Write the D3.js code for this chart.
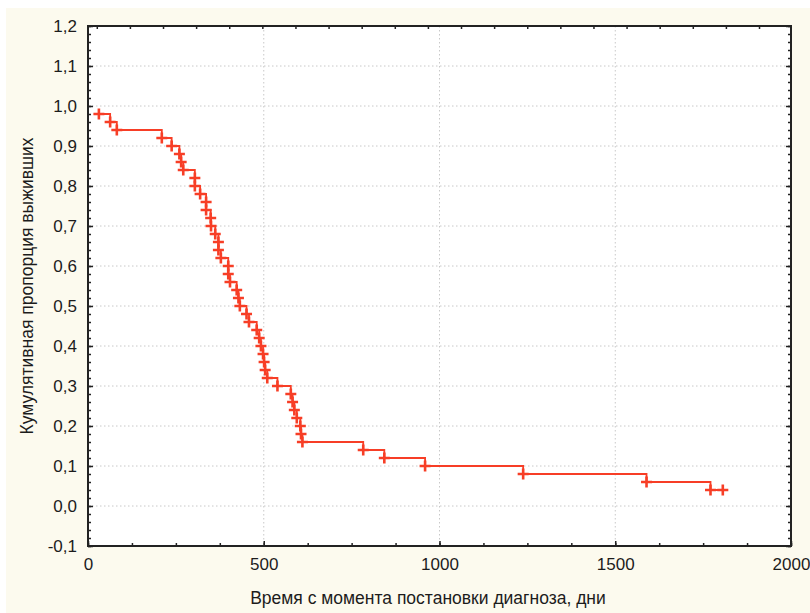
<!DOCTYPE html>
<html>
<head>
<meta charset="utf-8">
<script src="https://cdn.jsdelivr.net/npm/d3@7"></script>
<style>
  body { margin: 0; background: #fff; }
  text { font-family: "Liberation Sans", Arial, sans-serif; fill: #1c1c1c; }
</style>
</head>
<body>
<script>
// Kaplan-Meier style survival curve
var times = [31, 63, 82, 210, 238, 260, 265, 271, 304, 304, 319, 336, 336, 349, 350,
    362, 371, 371, 378, 399, 399, 404, 423, 428, 432, 451, 458, 480, 487, 492,
    498, 501, 504, 510, 539, 577, 582, 587, 594, 604, 606, 610,
    783, 843, 959, 1238, 1589, 1771, 1806];
var survival = [0.98, 0.96, 0.94, 0.92, 0.90, 0.88, 0.86, 0.84, 0.82, 0.80, 0.78, 0.76, 0.74, 0.72, 0.70,
    0.68, 0.66, 0.64, 0.62, 0.60, 0.58, 0.56, 0.54, 0.52, 0.50, 0.48, 0.46, 0.44, 0.42, 0.40,
    0.38, 0.36, 0.34, 0.32, 0.30, 0.28, 0.26, 0.24, 0.22, 0.20, 0.18, 0.16,
    0.14, 0.12, 0.10, 0.08, 0.06, 0.04, 0.04];

var xTicks = [0, 500, 1000, 1500, 2000];
var yTicks = [-0.1, 0, 0.1, 0.2, 0.3, 0.4, 0.5, 0.6, 0.7, 0.8, 0.9, 1.0, 1.1, 1.2];
var xTitle = "Время с момента постановки диагноза, дни";
var yTitle = "Кумулятивная пропорция выживших";

var width = 810, height = 613;
var margin = {top: 26, right: 19, bottom: 67, left: 88};
var w = width - margin.left - margin.right;
var h = height - margin.top - margin.bottom;

var svg = d3.select("body").append("svg")
    .attr("width", width)
    .attr("height", height);

// cream panel
svg.append("rect")
    .attr("x", 6).attr("y", 8)
    .attr("width", width - 6).attr("height", height - 8)
    .attr("fill", "#fcfaee");

var g = svg.append("g")
    .attr("transform", "translate(" + margin.left + "," + margin.top + ")");

g.append("rect")
    .attr("width", w).attr("height", h)
    .attr("fill", "#fff");

var x = d3.scaleLinear().domain([0, 2000]).range([0, w]);
var y = d3.scaleLinear().domain([-0.1, 1.2]).range([h, 0]);

var fmt = function (d) { return d3.format(".1f")(d).replace(".", ",").replace("−", "-"); };

// grid
g.append("g").selectAll("line")
    .data(yTicks.filter(function (d) { return d > -0.05 && d < 1.15; }))
    .enter().append("line")
    .attr("x1", 0).attr("x2", w)
    .attr("y1", function (d) { return y(d); })
    .attr("y2", function (d) { return y(d); })
    .attr("stroke", "#c8c8c8")
    .attr("stroke-dasharray", "1.5,2.5");
g.append("g").selectAll("line")
    .data(xTicks.filter(function (d) { return d > 0 && d < 2000; }))
    .enter().append("line")
    .attr("y1", 0).attr("y2", h)
    .attr("x1", function (d) { return x(d); })
    .attr("x2", function (d) { return x(d); })
    .attr("stroke", "#c8c8c8")
    .attr("stroke-dasharray", "1.5,2.5");

// minor ticks
var yMinor = d3.range(-0.1, 1.2001, 0.02);
var xMinor = d3.range(0, 2001, 125);
var xTopMinor = d3.range(25, 2000, 94.2);

g.append("g").attr("class", "minor")
    .call(d3.axisLeft(y).tickValues(yMinor).tickSize(-3).tickFormat(""));
g.append("g").attr("class", "minor")
    .attr("transform", "translate(" + w + ",0)")
    .call(d3.axisRight(y).tickValues(yMinor).tickSize(-3).tickFormat(""));
g.append("g").attr("class", "minor")
    .attr("transform", "translate(0," + h + ")")
    .call(d3.axisBottom(x).tickValues(xMinor).tickSize(-3).tickFormat(""));
g.append("g").attr("class", "minor")
    .call(d3.axisTop(x).tickValues(xTopMinor).tickSize(-3).tickFormat(""));

// major axes with labels
g.append("g").attr("class", "major")
    .call(d3.axisLeft(y).tickValues(yTicks).tickSizeInner(-5).tickSizeOuter(0)
        .tickPadding(11).tickFormat(fmt));
g.append("g").attr("class", "major")
    .attr("transform", "translate(" + w + ",0)")
    .call(d3.axisRight(y).tickValues(yTicks).tickSizeInner(-5).tickSizeOuter(0).tickFormat(""));
g.append("g").attr("class", "major")
    .attr("transform", "translate(0," + h + ")")
    .call(d3.axisBottom(x).tickValues(xTicks).tickSizeInner(-5).tickSizeOuter(0)
        .tickPadding(12).tickFormat(d3.format("d")));

g.selectAll(".domain").remove();
g.selectAll(".tick line").attr("stroke", "#222").attr("stroke-width", 1.5);
g.selectAll(".major text")
    .style("font-size", "17px")
    .attr("fill", "#1c1c1c");

// frame
g.append("rect")
    .attr("width", w).attr("height", h)
    .attr("fill", "none")
    .attr("stroke", "#222")
    .attr("stroke-width", 2);

// survival curve
var pts = times.map(function (t, i) { return {t: t, s: survival[i]}; });

g.append("path")
    .datum(pts)
    .attr("fill", "none")
    .attr("stroke", "#f73e26")
    .attr("stroke-width", 1.8)
    .attr("d", d3.line()
        .curve(d3.curveStepAfter)
        .x(function (d) { return x(d.t); })
        .y(function (d) { return y(d.s); }));

g.append("g").selectAll("path")
    .data(pts)
    .enter().append("path")
    .attr("transform", function (d) { return "translate(" + x(d.t) + "," + y(d.s) + ")"; })
    .attr("d", "M-5.5,0H5.5M0,-5.5V5.5")
    .attr("stroke", "#f73e26")
    .attr("stroke-width", 2.6)
    .attr("fill", "none");

// titles
svg.append("text")
    .attr("x", 428).attr("y", 604)
    .attr("text-anchor", "middle")
    .style("font-size", "17.5px")
    .text(xTitle);

svg.append("text")
    .attr("transform", "translate(33," + (margin.top + h / 2) + ") rotate(-90)")
    .attr("text-anchor", "middle")
    .style("font-size", "17.5px")
    .text(yTitle);
</script>
</body>
</html>
